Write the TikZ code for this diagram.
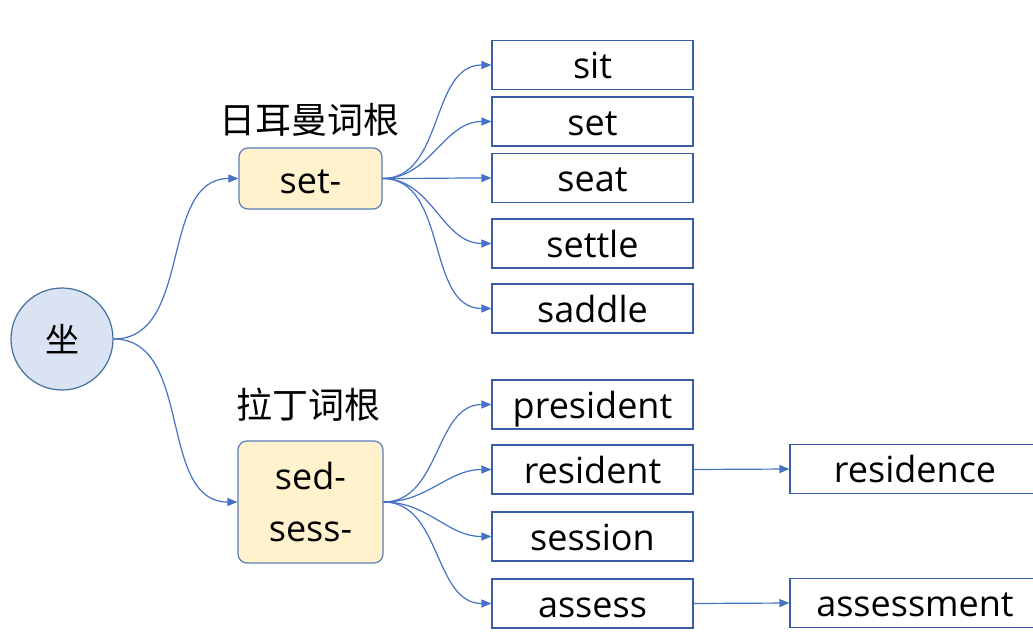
\documentclass[tikz,border=0pt]{standalone}
\usepackage{fontspec}
\setmainfont{Open Sans}
\newfontfamily\cjk{Noto Sans CJK SC}
\usetikzlibrary{arrows.meta}
\definecolor{lineblue}{HTML}{4472C4}
\definecolor{boxblue}{HTML}{3A5FA8}
\definecolor{rootfill}{HTML}{FFF2CC}
\definecolor{rootdraw}{HTML}{5B7DB8}
\definecolor{circfill}{HTML}{DAE3F3}
\definecolor{circdraw}{HTML}{41719C}
\begin{document}
\begin{tikzpicture}[x=1pt,y=-1pt,
  font=\fontsize{36}{52}\selectfont,
  leaf/.style={draw=boxblue, line width=1.2pt, minimum width=201pt, minimum height=49pt, inner sep=0pt, text height=32pt, text depth=5pt},
  widebox/.style={leaf, minimum width=250pt},
  rootbox/.style={draw=rootdraw, fill=rootfill, line width=1.2pt, rounded corners=9pt, inner sep=0pt, align=center},
  lbl/.style={inner sep=0pt, font=\cjk\fontsize{36}{40}\selectfont},
  arr/.style={draw=lineblue, line width=1.2pt, -{Triangle[length=10pt,width=8pt]}},
]
\useasboundingbox (0,0) rectangle (1033,640);
\fill[white] (0,0) rectangle (1033,640);

\node[circle, draw=circdraw, fill=circfill, line width=1.2pt, minimum size=102pt, inner sep=0pt, font=\cjk\fontsize{34}{40}\selectfont] (zuo) at (62,339) {坐};

\node[rootbox, minimum width=143pt, minimum height=61pt, text height=32pt, text depth=3pt] (set) at (310.5,178.5) {set-};
\node[lbl] (lbl1) at (309,120) {日耳曼词根};
\node[rootbox, minimum width=145pt, minimum height=122pt] (sed) at (310.5,502) {sed-\\sess-};
\node[lbl] (lbl2) at (308,405) {拉丁词根};

\node[leaf] (sit) at (592.5,65) {sit};
\node[leaf] (set2) at (592.5,121.5) {set};
\node[leaf] (seat) at (592.5,178) {seat};
\node[leaf] (settle) at (592.5,243.5) {settle};
\node[leaf] (saddle) at (592.5,308.5) {saddle};

\node[leaf] (president) at (592.5,404.5) {president};
\node[leaf] (resident) at (592.5,469.5) {resident};
\node[leaf] (session) at (592.5,536.5) {session};
\node[leaf] (assess) at (592.5,603.5) {assess};

\node[widebox] (residence) at (915,469) {residence};
\node[widebox] (assessment) at (915,603) {assessment};

\draw[arr] (zuo.east) to[out=0,in=180] (set.west);
\draw[arr] (zuo.east) to[out=0,in=180] (sed.west);

\foreach \t in {sit,set2,seat,settle,saddle}
  \draw[arr] (set.east) to[out=0,in=180] (\t.west);
\foreach \t in {president,resident,session,assess}
  \draw[arr] (sed.east) to[out=0,in=180] (\t.west);

\draw[arr] (resident.east) -- (residence.west);
\draw[arr] (assess.east) -- (assessment.west);
\end{tikzpicture}
\end{document}
